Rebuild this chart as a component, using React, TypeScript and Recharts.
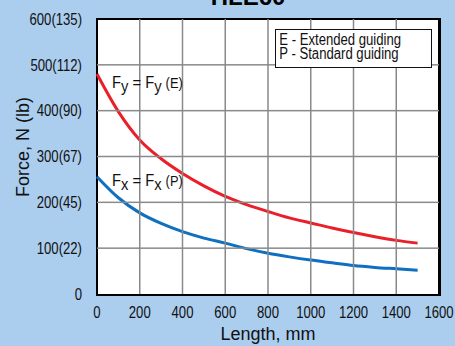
import { LineChart, Line, XAxis, YAxis, Label } from "recharts";

const lengths = [0, 100, 200, 300, 400, 500, 600, 700, 800, 900, 1000, 1100, 1200, 1300, 1400, 1500];
const forceE = [480, 398, 336, 295, 263, 236, 213, 195, 180, 166, 155, 144, 134, 125, 117, 111];
const forceP = [256, 210, 177, 154, 136, 122, 111, 99, 89, 81, 74, 68, 62, 58, 55, 52];
const xTicks = [0, 200, 400, 600, 800, 1000, 1200, 1400, 1600];
const yTicks = [0, 100, 200, 300, 400, 500, 600];
const yTickLabels = ["0", "100(22)", "200(45)", "300(67)", "400(90)", "500(112)", "600(135)"];

const data = lengths.map((len, i) => ({ len, e: forceE[i], p: forceP[i] }));

const sans = "'Liberation Sans', Arial, sans-serif";
const squeeze = 0.82;
const W = 455;
const H = 346;
const M = { top: 19, right: 16, left: 37, bottom: 22 };
const Y_W = 60;
const X_H = 30;
const plotLeft = M.left + Y_W;
const plotTop = M.top;
const plotW = W - plotLeft - M.right;
const plotH = H - M.top - M.bottom - X_H;

// condensed tick text (reference uses a narrow Helvetica) + the grid line for that tick
function NarrowTick(props: any) {
  const { x, y, payload, textAnchor, vertical, formatter, index, visibleTicksCount } = props;
  const label = formatter ? formatter(payload.value) : String(payload.value);
  const edge = index === 0 || index === visibleTicksCount - 1;
  const c = payload.coordinate;
  return (
    <g>
      {!edge &&
        (vertical ? (
          <rect x={plotLeft} y={c - 0.75} width={plotW} height={1.5} fill="#8a8a8a" />
        ) : (
          <rect x={c - 0.75} y={plotTop} width={1.5} height={plotH} fill="#8a8a8a" />
        ))}
      <g transform={`translate(${x},${y})`}>
        <text
          transform={`scale(${squeeze},1)`}
          textAnchor={textAnchor}
          dy={vertical ? "0.36em" : "0.75em"}
          fill="#111"
          fontSize={16}
          fontFamily={sans}
        >
          {label}
        </text>
      </g>
    </g>
  );
}

export default function App() {
  return (
    <div
      style={{
        position: "fixed",
        left: 0,
        top: 0,
        width: W,
        height: H,
        background: "#abcdee",
        overflow: "hidden",
      }}
    >
      <div
        style={{
          position: "absolute",
          left: 0,
          width: 496,
          top: -17,
          textAlign: "center",
          fontFamily: sans,
          fontWeight: "bold",
          fontSize: 24,
          lineHeight: "28px",
        }}
      >
        HLE60
      </div>
      {/* white plot background with black frame, behind the svg */}
      <div
        style={{
          position: "absolute",
          left: plotLeft - 1.5,
          top: plotTop - 1,
          width: plotW + 3,
          height: plotH + 2.5,
          boxSizing: "border-box",
          background: "#fff",
          borderStyle: "solid",
          borderColor: "#000",
          borderWidth: "2px 3px 2.5px 2.5px",
        }}
      />
      <div style={{ position: "absolute", left: 0, top: 0 }}>
        <LineChart width={W} height={H} data={data} margin={M}>
          <XAxis
            dataKey="len"
            type="number"
            domain={[0, 1600]}
            ticks={xTicks}
            height={X_H}
            axisLine={false}
            tickLine={false}
            tick={<NarrowTick />}
            tickMargin={6}
            interval={0}
          >
            <Label
              value="Length, mm"
              position="insideBottom"
              offset={-16}
              style={{ fill: "#111", fontSize: 18, fontFamily: sans }}
            />
          </XAxis>
          <YAxis
            type="number"
            domain={[0, 600]}
            ticks={yTicks}
            width={Y_W}
            axisLine={false}
            tickLine={false}
            interval={0}
            tick={<NarrowTick vertical formatter={(v: number) => yTickLabels[yTicks.indexOf(v)]} />}
            tickMargin={9}
          >
            <Label
              content={() => (
                <text
                  x={23}
                  y={147}
                  transform="rotate(-90 23 147)"
                  textAnchor="middle"
                  dy="0.36em"
                  fill="#111"
                  fontSize={18}
                  fontFamily={sans}
                >
                  Force, N (lb)
                </text>
              )}
            />
          </YAxis>
          <Line
            type="monotone"
            dataKey="e"
            stroke="#ea1f29"
            strokeWidth={3}
            dot={false}
            isAnimationActive={false}
          />
          <Line
            type="monotone"
            dataKey="p"
            stroke="#0f6fc0"
            strokeWidth={3}
            dot={false}
            isAnimationActive={false}
          />
        </LineChart>
      </div>
      <div
        style={{
          position: "absolute",
          left: 275,
          top: 29,
          width: 157,
          height: 39,
          boxSizing: "border-box",
          background: "#fff",
          border: "1px solid #111",
        }}
      >
        <div
          style={{
            transform: `scale(${squeeze},1)`,
            transformOrigin: "0 0",
            whiteSpace: "nowrap",
            fontFamily: sans,
            fontSize: 16,
            lineHeight: "14px",
            padding: "3px 0 0 4px",
            color: "#111",
          }}
        >
          <div>E - Extended guiding</div>
          <div>P - Standard guiding</div>
        </div>
      </div>
      <div
        style={{
          position: "absolute",
          left: 112,
          top: 74,
          fontFamily: sans,
          fontSize: 16,
          color: "#111",
          lineHeight: "18px",
          whiteSpace: "nowrap",
          transform: "scale(0.92,1)",
          transformOrigin: "0 0",
        }}
      >
        F<sub style={{ fontSize: 16, verticalAlign: -4 }}>y</sub> = F<sub style={{ fontSize: 16, verticalAlign: -4 }}>y</sub> <span style={{ fontSize: 14 }}>(E)</span>
      </div>
      <div
        style={{
          position: "absolute",
          left: 112,
          top: 172,
          fontFamily: sans,
          fontSize: 16,
          color: "#111",
          lineHeight: "18px",
          whiteSpace: "nowrap",
          transform: "scale(0.92,1)",
          transformOrigin: "0 0",
        }}
      >
        F<sub style={{ fontSize: 16, verticalAlign: -4 }}>x</sub> = F<sub style={{ fontSize: 16, verticalAlign: -4 }}>x</sub> <span style={{ fontSize: 14 }}>(P)</span>
      </div>
    </div>
  );
}
